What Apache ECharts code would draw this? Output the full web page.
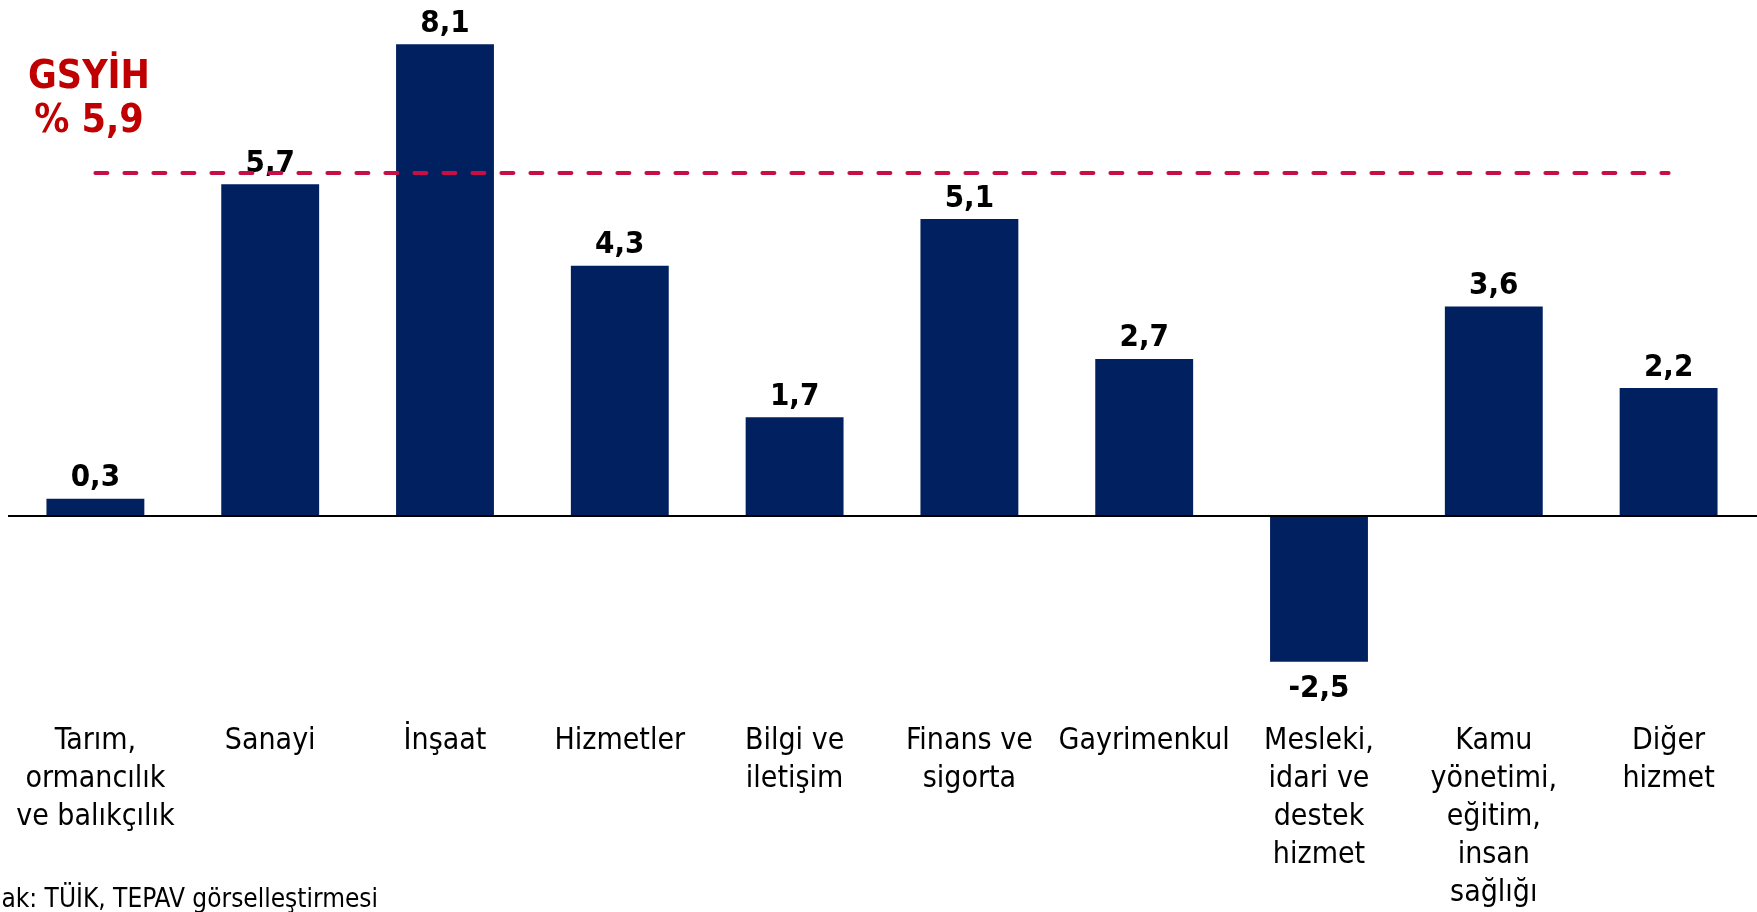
<!DOCTYPE html>
<html>
<head>
<meta charset="utf-8">
<script src="https://cdn.jsdelivr.net/npm/echarts@6/dist/echarts.min.js"></script>
<style>
html,body{margin:0;padding:0;background:#fff;}
#c{width:1757px;height:912px;}
</style>
</head>
<body>
<div id="c"></div>
<script>
const categories = [
  'Tarım,\normancılık\nve balıkçılık',
  'Sanayi',
  'İnşaat',
  'Hizmetler',
  'Bilgi ve\niletişim',
  'Finans ve\nsigorta',
  'Gayrimenkul',
  'Mesleki,\nidari ve\ndestek\nhizmet',
  'Kamu\nyönetimi,\neğitim,\ninsan\nsağlığı',
  'Diğer\nhizmet'
];
const growth = [0.3, 5.7, 8.1, 4.3, 1.7, 5.1, 2.7, -2.5, 3.6, 2.2];
const gdpGrowth = 5.9;
const gdpLabel = 'GSYİH\n% 5,9';
const sourceText = 'Kaynak: TÜİK, TEPAV görselleştirmesi';

const FONT = '"DejaVu Sans Condensed", "DejaVu Sans", sans-serif';
const fmt = v => v.toFixed(1).replace('.', ',');

const chart = echarts.init(document.getElementById('c'), null, {renderer: 'canvas'});
chart.setOption({
  backgroundColor: '#ffffff',
  animation: false,
  grid: {left: 8, right: 1, top: 21, bottom: 219},
  xAxis: {
    type: 'category',
    data: categories,
    axisLine: {show: false, onZero: false},
    axisTick: {show: false},
    axisLabel: {
      interval: 0,
      margin: 31,
      color: '#000',
      fontFamily: FONT,
      fontSize: 30,
      lineHeight: 38,
      align: 'center'
    }
  },
  yAxis: {
    type: 'value',
    min: -3,
    max: 8.5,
    show: false,
    splitLine: {show: false}
  },
  series: [{
    type: 'bar',
    barCategoryGap: '44%',
    data: growth.map(v => ({
      value: v,
      label: v < 0 ? {position: 'bottom', distance: 12} : {position: 'top'}
    })),
    itemStyle: {color: '#002060'},
    label: {
      show: true,
      distance: 5,
      formatter: p => fmt(p.value),
      color: '#000',
      fontFamily: FONT,
      fontWeight: 'bold',
      fontSize: 31
    },
    markLine: {
      silent: true,
      symbol: ['none', 'none'],
      label: {show: false},
      data: [
        [
          {coord: [0, gdpGrowth], lineStyle: {color: '#C80F45', width: 4, type: [12, 17], cap: 'round'}},
          {coord: [categories.length - 1, gdpGrowth]}
        ],
        [
          {coord: [0, 0], x: 8, lineStyle: {color: '#000', width: 2, type: 'solid'}},
          {coord: [categories.length - 1, 0], x: 1757}
        ]
      ]
    }
  }],
  graphic: [
    {
      type: 'text',
      x: 89,
      y: 56,
      style: {
        text: gdpLabel,
        fill: '#C00000',
        font: 'bold 39px ' + FONT,
        lineHeight: 44,
        align: 'center',
        verticalAlign: 'top'
      }
    },
    {
      type: 'text',
      x: 378,
      y: 887,
      style: {
        text: sourceText,
        fill: '#000',
        font: '26px ' + FONT,
        align: 'right',
        verticalAlign: 'top'
      }
    }
  ]
});
</script>
</body>
</html>
